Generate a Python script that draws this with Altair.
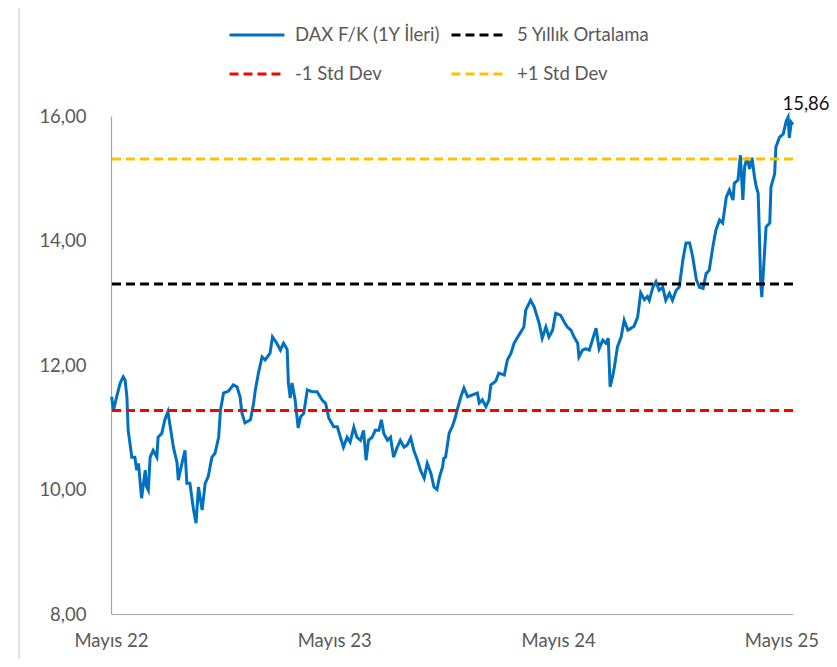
import altair as alt
import pandas as pd

# ---------------- data ----------------
start_date = "2022-05-01"

# days since start_date for every traced observation
day_offsets = [
    1, 4, 9, 15, 20, 23, 26, 28, 34, 39,
    42, 45, 50, 56, 58, 61, 64, 69, 75, 77,
    83, 88, 93, 97, 102, 108, 110, 116, 121, 124,
    129, 135, 139, 143, 149, 154, 159, 165, 170, 176,
    179, 184, 192, 200, 206, 211, 214, 219, 228, 233,
    236, 241, 247, 252, 260, 264, 271, 277, 282, 285,
    288, 290, 293, 296, 301, 306, 310, 315, 321, 329,
    337, 345, 351, 356, 364, 370, 375, 380, 386, 391,
    397, 402, 408, 413, 417, 421, 427, 432, 438, 442,
    446, 452, 457, 462, 468, 473, 479, 484, 490, 495,
    501, 506, 512, 517, 523, 528, 533, 537, 542, 544,
    547, 553, 558, 563, 566, 572, 577, 583, 591, 599,
    602, 607, 613, 618, 621, 629, 634, 643, 648, 654,
    659, 665, 670, 675, 678, 686, 692, 695, 700, 705,
    711, 716, 722, 727, 735, 741, 746, 752, 757, 763,
    765, 771, 776, 782, 787, 793, 798, 804, 809, 813,
    816, 820, 823, 828, 834, 839, 845, 855, 861, 866,
    872, 877, 880, 886, 891, 896, 902, 907, 913, 918,
    924, 929, 935, 940, 946, 951, 957, 962, 968, 973,
    978, 984, 989, 995, 1000, 1006, 1011, 1017, 1019, 1025,
    1029, 1033, 1036, 1040, 1044, 1048, 1052, 1055, 1058, 1060,
    1062, 1064, 1068, 1071, 1077, 1079, 1085, 1087, 1093, 1099,
    1104, 1107, 1109, 1112, 1115,
]

pe_values = [
    11.49, 11.27, 11.48, 11.71, 11.81, 11.76, 11.49, 10.96, 10.52, 10.52,
    10.31, 10.42, 9.86, 10.31, 10.05, 9.99, 10.52, 10.63, 10.52, 10.84,
    10.90, 11.12, 11.25, 11.00, 10.68, 10.43, 10.15, 10.42, 10.63, 10.10,
    10.10, 9.67, 9.46, 10.04, 9.67, 10.10, 10.21, 10.52, 10.58, 10.84,
    11.28, 11.55, 11.58, 11.68, 11.65, 11.49, 11.23, 11.07, 11.12, 11.38,
    11.60, 11.87, 12.13, 12.08, 12.19, 12.45, 12.35, 12.24, 12.35, 12.30,
    12.25, 11.71, 11.47, 11.71, 11.44, 10.99, 11.17, 11.22, 11.60, 11.57,
    11.57, 11.44, 11.38, 11.15, 11.01, 11.01, 10.84, 10.68, 10.84, 10.76,
    11.00, 10.84, 10.79, 10.95, 10.47, 10.79, 10.84, 10.95, 10.95, 11.12,
    10.90, 10.79, 10.84, 10.52, 10.68, 10.79, 10.68, 10.71, 10.83, 10.63,
    10.47, 10.31, 10.18, 10.42, 10.26, 10.04, 10.00, 10.20, 10.36, 10.50,
    10.52, 10.91, 11.01, 11.16, 11.28, 11.49, 11.63, 11.49, 11.52, 11.55,
    11.39, 11.44, 11.33, 11.44, 11.68, 11.74, 11.87, 11.84, 12.08, 12.19,
    12.35, 12.45, 12.53, 12.61, 12.88, 13.04, 12.93, 12.83, 12.67, 12.43,
    12.61, 12.45, 12.56, 12.83, 12.80, 12.69, 12.61, 12.56, 12.45, 12.35,
    12.13, 12.24, 12.26, 12.24, 12.40, 12.59, 12.26, 12.40, 12.35, 12.43,
    11.65, 11.81, 11.97, 12.29, 12.45, 12.72, 12.56, 12.62, 12.77, 13.16,
    13.05, 13.10, 13.04, 13.25, 13.34, 13.20, 13.25, 13.04, 13.15, 13.04,
    13.20, 13.25, 13.69, 13.96, 13.96, 13.74, 13.37, 13.25, 13.23, 13.47,
    13.52, 13.90, 14.17, 14.33, 14.28, 14.70, 14.81, 14.65, 14.92, 14.97,
    15.37, 14.65, 15.19, 15.33, 15.15, 15.33, 15.02, 14.86, 14.76, 14.12,
    13.37, 13.09, 13.73, 14.22, 14.28, 14.86, 15.07, 15.50, 15.66, 15.71,
    15.92, 15.98, 15.65, 15.90, 15.86,
]

series_names = ["DAX F/K (1Y İleri)", "5 Yıllık Ortalama", "-1 Std Dev", "+1 Std Dev"]
series_colors = ["#0070C0", "#000000", "#FF0000", "#FFC000"]
series_dashes = [[1, 0], [9, 5], [9, 5], [9, 5]]

ref_names = ["5 Yıllık Ortalama", "-1 Std Dev", "+1 Std Dev"]
ref_values = [13.30, 11.27, 15.31]

last_label = "15,86"
tick_years = [2022, 2023, 2024, 2025]
y_ticks = [8, 10, 12, 14, 16]

# ---------------- tables ----------------
dates = pd.Timestamp(start_date) + pd.to_timedelta(day_offsets, unit="D")
df = pd.DataFrame({"Tarih": dates, "FK": pe_values, "Seri": series_names[0]})
ref = pd.DataFrame({"Seri": ref_names, "FK": ref_values})
last = df.tail(1).assign(etiket=last_label)
frame = pd.DataFrame({"k": [0]})

d0 = pd.Timestamp(start_date)
d1 = dates[-1]

FONT = "Lato"
GRAY = "#595959"

x_enc = alt.X(
    "Tarih:T",
    scale=alt.Scale(domain=[alt.DateTime(year=d0.year, month=d0.month, date=d0.day),
                            alt.DateTime(year=d1.year, month=d1.month, date=d1.day)]),
    axis=alt.Axis(
        values=[alt.DateTime(year=y, month=5, date=1) for y in tick_years],
        labelExpr="'Mayıs ' + timeFormat(datum.value, '%y')",
        title=None, grid=False, ticks=False, labelPadding=17,
        labelFont=FONT, labelFontSize=18.5, labelColor=GRAY,
        labelOverlap=False, labelFlush=False, labelBound=False,
        domainColor="#A6A6A6", domainWidth=1.2,
    ),
)
y_enc = alt.Y(
    "FK:Q",
    scale=alt.Scale(domain=[8, 16], nice=False, zero=False),
    axis=alt.Axis(
        values=y_ticks,
        labelExpr="replace(format(datum.value, '.2f'), '.', ',')",
        title=None, grid=False, ticks=False, labelPadding=25,
        labelFont=FONT, labelFontSize=18.5, labelColor=GRAY,
        labelFlush=False, domainColor="#A6A6A6", domainWidth=1.2,
    ),
)
legend = alt.Legend(
    title=None, orient="none", legendX=117, legendY=-91, columns=2,
    direction="horizontal",
    symbolType="stroke", symbolSize=3025, symbolStrokeWidth=3,
    clipHeight=20, rowPadding=19, columnPadding=9, labelOffset=9,
    labelFont=FONT, labelFontSize=18.5, labelColor=GRAY, labelLimit=400,
    padding=0,
)
color_enc = alt.Color("Seri:N", scale=alt.Scale(domain=series_names, range=series_colors), legend=legend)
dash_enc = alt.StrokeDash("Seri:N", scale=alt.Scale(domain=series_names, range=series_dashes), legend=legend)

line = alt.Chart(df).mark_line(strokeWidth=3).encode(
    x=x_enc, y=y_enc, color=color_enc, strokeDash=dash_enc
)
rules = alt.Chart(ref).mark_rule(strokeWidth=3).encode(
    y=y_enc, color=color_enc, strokeDash=dash_enc
)
label = alt.Chart(last).mark_text(
    dx=13, dy=-21, font=FONT, fontSize=18.5, color="#111111"
).encode(x=x_enc, y=y_enc, text="etiket:N")
border = alt.Chart(frame).mark_rule(color="#D9D9D9", strokeWidth=1.5).encode(
    x=alt.value(-92), y=alt.value(-108), y2=alt.value(545)
)

chart = (
    alt.layer(border, line, rules, label)
    .properties(
        width=682, height=498,
        padding={"left": 103, "top": 108, "right": 36, "bottom": 45},
        autosize=alt.AutoSizeParams(type="none"),
        background="white",
    )
    .configure_view(stroke=None)
)

chart.save("out.html", embed_options={"renderer": "svg", "actions": False})
